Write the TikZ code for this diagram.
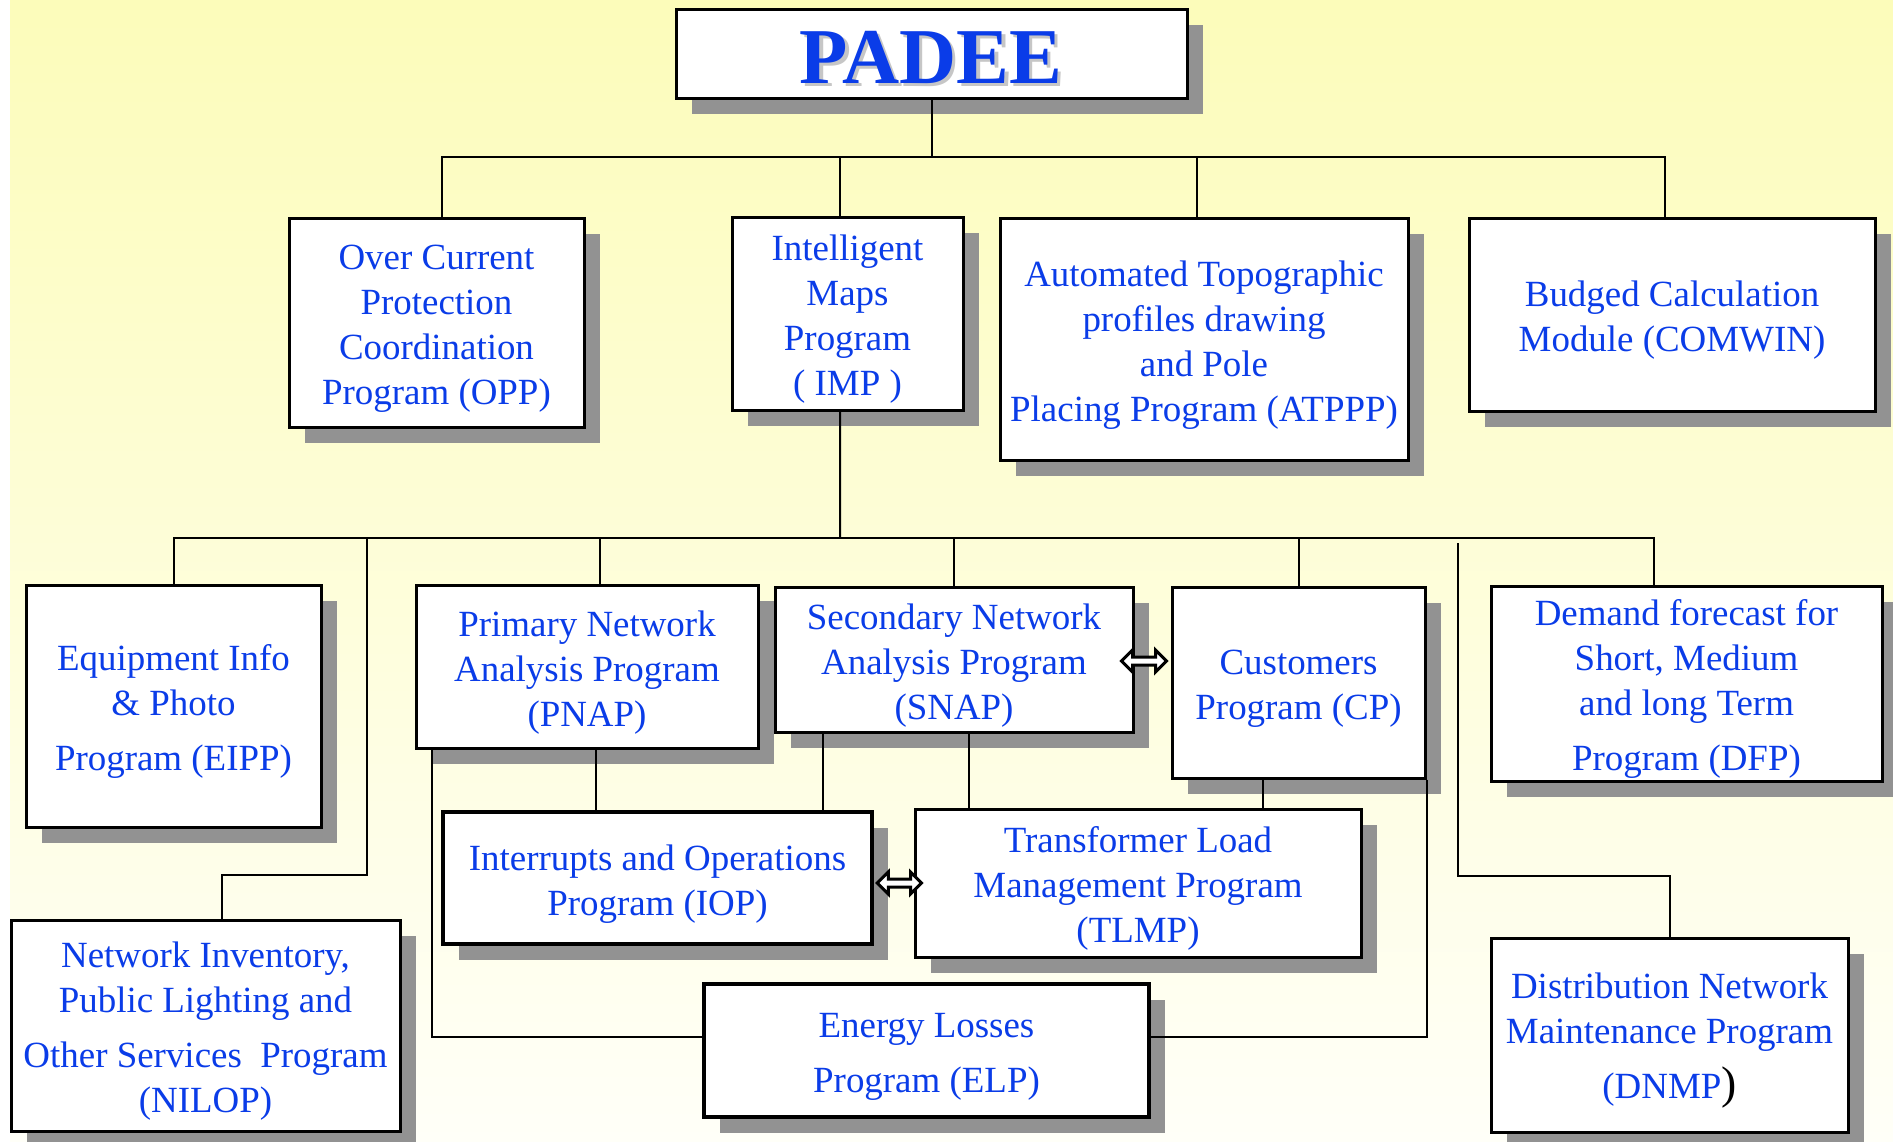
\documentclass[tikz,border=0pt]{standalone}
\usepackage{fontspec}
\setmainfont{Liberation Serif}
\usetikzlibrary{shadows,calc}

\definecolor{schrift}{RGB}{10,60,232}
\definecolor{schatten}{RGB}{146,146,146}
\definecolor{gelb}{RGB}{252,252,186}
\definecolor{hell}{RGB}{255,255,248}

\tikzset{
	kasten/.style={draw=black, fill=white, line width=0.03cm, inner sep=0pt,
		align=center, text=schrift, font=\fontsize{10.5}{12.8}\selectfont,
		drop shadow={shadow xshift=0.16cm, shadow yshift=-0.16cm, fill=schatten, opacity=1}},
	dick/.style={line width=0.045cm},
	linie/.style={line width=0.02cm},
	wechsel/.style={draw=black, fill=white, line width=0.03cm, line join=miter},
}

% Raster in Pixeln: x nach rechts, y nach unten
\def\punkt#1#2{ ({0.01*(#1)},{-0.01*(#2)}) }
\def\kasten#1#2#3#4#5#6#7{
	\node[kasten, #1, minimum width={(#5-#3)*0.01cm}, minimum height={(#6-#4)*0.01cm}]
		(#2) at \punkt{(#3+#5)/2}{(#4+#6)/2} {\rule{0pt}{0.37cm}#7};
}
% hohler Doppelpfeil von #1 nach #2
\def\doppelpfeil#1#2{
	\draw[wechsel] (#1) -- ($(#1)+(0.11,0.11)$) -- ($(#1)+(0.11,0.04)$)
		-- ($(#2)+(-0.11,0.04)$) -- ($(#2)+(-0.11,0.11)$) -- (#2)
		-- ($(#2)+(-0.11,-0.11)$) -- ($(#2)+(-0.11,-0.04)$)
		-- ($(#1)+(0.11,-0.04)$) -- ($(#1)+(0.11,-0.11)$) -- cycle;
}

\begin{document}
\begin{tikzpicture}
\useasboundingbox \punkt{0}{0} rectangle \punkt{1893}{1141};
\fill[white] \punkt{0}{0} rectangle \punkt{1893}{1141};
\shade[top color=gelb, bottom color=hell] \punkt{10}{0} rectangle \punkt{1893}{1141};

% Kopf
\kasten{}{padee}{676}{9}{1187}{98}{}
\node[text=gray!45, font=\bfseries\fontsize{22.5}{22.5}\selectfont] (padeeschatten) at \punkt{934.5}{60} {PADEE};
\node[text=schrift, font=\bfseries\fontsize{22.5}{22.5}\selectfont] (padeetitel) at \punkt{931}{57} {PADEE};

% erste Reihe
\kasten{}{opp}{289}{218}{584}{427}{Over Current\\Protection\\Coordination\\Program (OPP)}
\kasten{}{imp}{732}{217}{963}{410}{Intelligent\\Maps\\Program\\( IMP )}
\kasten{}{atppp}{1000}{218}{1408}{460}{Automated Topographic\\profiles drawing\\and Pole\\Placing Program (ATPPP)}
\kasten{}{comwin}{1469}{218}{1875}{411}{Budged Calculation\\Module (COMWIN)}

% zweite Reihe
\kasten{}{eipp}{26}{585}{321}{827}{Equipment Info\\\& Photo\\[3pt]Program (EIPP)}
\kasten{}{pnap}{416}{585}{758}{748}{Primary Network\\Analysis Program\\(PNAP)}
\kasten{}{snap}{775}{587}{1133}{732}{Secondary Network\\Analysis Program\\(SNAP)}
\kasten{}{cp}{1172}{587}{1425}{778}{Customers\\Program (CP)}
\kasten{}{dfp}{1491}{586}{1882}{781}{Demand forecast for\\Short, Medium\\and long Term\\[3pt]Program (DFP)}

% untere Kaesten
\kasten{dick}{iop}{443}{812}{872}{944}{Interrupts and Operations\\Program (IOP)}
\kasten{}{tlmp}{915}{809}{1361}{957}{Transformer Load\\Management Program\\(TLMP)}
\kasten{}{nilop}{11}{920}{400}{1131}{Network Inventory,\\Public Lighting and\\[3pt]Other Services\ \ Program\\(NILOP)}
\kasten{}{dnmp}{1491}{938}{1848}{1132}{Distribution Network\\Maintenance Program\\[3pt](DNMP{\color{black}\fontsize{13}{13}\selectfont)}}
\kasten{dick}{elp}{704}{984}{1149}{1117}{Energy Losses\\[3pt]Program (ELP)}

% Verbindungen
\path \punkt{931.5}{157} coordinate (bus1);
\path \punkt{840}{538} coordinate (bus2);
\draw[linie] (padee.south) -- (bus1);
\draw[linie] ([xshift=0.055cm]opp.north) |- (bus1) -| ([xshift=-0.07cm]comwin.north);
\draw[linie] ([xshift=-0.075cm]imp.north) |- (bus1);
\draw[linie] ([xshift=-0.07cm]atppp.north) |- (bus1);

\draw[linie] ([xshift=-0.075cm]imp.south) -- (bus2);
\draw[linie] (eipp.north) |- (bus2) -| ([xshift=-0.325cm]dfp.north);
\draw[linie] ([xshift=0.13cm]pnap.north) |- (bus2);
\draw[linie] (snap.north) |- (bus2);
\draw[linie] (cp.north) |- (bus2);

\path \punkt{367}{875} coordinate (nknick);
\draw[linie] (nknick |- bus2) -- (nknick) -| ([xshift=0.16cm]nilop.north);
\path \punkt{1458}{876} coordinate (dknick);
\draw[linie] ($(dknick |- bus2)+(0,-0.05)$) -- (dknick) -| (dnmp.north);

\path ([xshift=0.09cm]pnap.south) coordinate (l1);
\path ([xshift=-1.31cm]snap.south) coordinate (l2);
\path ([xshift=0.15cm]snap.south) coordinate (l3);
\path ([xshift=-0.355cm]cp.south) coordinate (l4);
\draw[linie] (l1) -- (l1 |- iop.north);
\draw[linie] (l2) -- (l2 |- iop.north);
\draw[linie] (l3) -- (l3 |- tlmp.north);
\draw[linie] (l4) -- (l4 |- tlmp.north);
\draw[linie] ([xshift=0.17cm]pnap.south west) |- ([yshift=0.135cm]elp.west);
\draw[linie] (cp.south east) |- ([yshift=0.135cm]elp.east);

% Doppelpfeile
\path ([xshift=-0.13cm,yshift=-0.015cm]snap.east) coordinate (p1a);
\path ($(cp.west |- p1a)+(-0.04,0)$) coordinate (p1b);
\path ([xshift=0.03cm]iop.east |- tlmp.west) coordinate (p2a);
\path ([xshift=0.08cm]tlmp.west) coordinate (p2b);
\doppelpfeil{p1a}{p1b}
\doppelpfeil{p2a}{p2b}
\end{tikzpicture}
\end{document}
